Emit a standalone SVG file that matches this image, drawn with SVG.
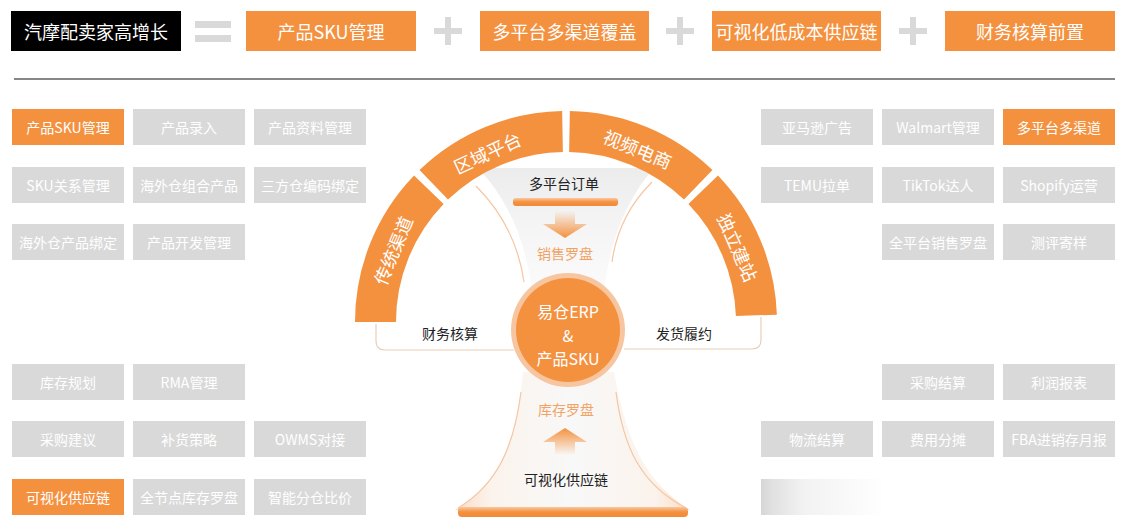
<svg xmlns="http://www.w3.org/2000/svg" width="1123" height="525" viewBox="0 0 1123 525">
<defs>
<style>
text{font-family:"Noto Sans CJK SC","Noto Sans",sans-serif;text-anchor:middle;dominant-baseline:central}
.g{fill:#d9d9d9}
.o{fill:#f4913f}
.bt{fill:#fff;font-size:14px}
.tt{fill:#fff;font-size:18px}
.ht{fill:#fff;font-size:16px}
.sign{fill:#d9d9d9}
.seg{fill:none;stroke:#f4913f;stroke-width:41}
.st{fill:#fff;font-size:18px}
.dk{fill:#222;font-size:14px}
.lo{fill:#f2a264;font-size:14px}
.br{fill:none;stroke:#ebcdb6;stroke-width:1.2}
.edge{fill:none;stroke:#f5c6a2;stroke-width:1.2}
</style>
<linearGradient id="funTop" x1="0" y1="0" x2="0" y2="1">
<stop offset="0" stop-color="#ececec"/>
<stop offset="0.5" stop-color="#f5f5f5"/>
<stop offset="1" stop-color="#fbfbfb"/>
</linearGradient>
<linearGradient id="bell" x1="0" y1="0" x2="1" y2="0">
<stop offset="0" stop-color="#fbdcc4"/>
<stop offset="0.15" stop-color="#fbf3ec"/>
<stop offset="0.5" stop-color="#f8f8f8"/>
<stop offset="0.85" stop-color="#fbf3ec"/>
<stop offset="1" stop-color="#fbdcc4"/>
</linearGradient>
<linearGradient id="bar" x1="0" y1="0" x2="0" y2="1">
<stop offset="0" stop-color="#f9c7a0"/>
<stop offset="0.5" stop-color="#f4913f"/>
<stop offset="1" stop-color="#f28a36"/>
</linearGradient>
<linearGradient id="arrDown" x1="0" y1="0" x2="0" y2="1">
<stop offset="0" stop-color="#f4913f" stop-opacity="0"/>
<stop offset="1" stop-color="#f4913f"/>
</linearGradient>
<linearGradient id="arrUp" x1="0" y1="0" x2="0" y2="1">
<stop offset="0" stop-color="#f4913f"/>
<stop offset="1" stop-color="#f4913f" stop-opacity="0"/>
</linearGradient>
<linearGradient id="fade" x1="0" y1="0" x2="1" y2="0">
<stop offset="0" stop-color="#d6d6d6"/>
<stop offset="0.03" stop-color="#e0e0e0"/>
<stop offset="0.12" stop-color="#f2f2f2"/>
<stop offset="0.35" stop-color="#ffffff"/>
</linearGradient>
</defs>
<rect width="1123" height="525" fill="#fff"/>

<!-- top formula row -->
<g id="title">
<rect x="11" y="11" width="170" height="40" fill="#000"/>
<text class="tt" x="96" y="31">汽摩配卖家高增长</text>
</g>
<g id="equals">
<rect class="sign" x="195" y="21" width="36" height="7"/>
<rect class="sign" x="195" y="35" width="36" height="7"/>
</g>
<g id="top-sku">
<rect class="o" x="246" y="11" width="170" height="40"/>
<text class="tt" x="331" y="31">产品SKU管理</text>
</g>
<g id="plus1"><rect class="sign" x="434" y="28" width="28" height="6"/><rect class="sign" x="445" y="17" width="6" height="28"/></g>
<g id="top-channel">
<rect class="o" x="480" y="11" width="169" height="40"/>
<text class="tt" x="564.5" y="31">多平台多渠道覆盖</text>
</g>
<g id="plus2"><rect class="sign" x="666" y="28" width="28" height="6"/><rect class="sign" x="677" y="17" width="6" height="28"/></g>
<g id="top-supply">
<rect class="o" x="712" y="11" width="169" height="40"/>
<text class="tt" x="796.5" y="31">可视化低成本供应链</text>
</g>
<g id="plus3"><rect class="sign" x="899" y="28" width="28" height="6"/><rect class="sign" x="910" y="17" width="6" height="28"/></g>
<g id="top-finance">
<rect class="o" x="945" y="11" width="170" height="40"/>
<text class="tt" x="1030" y="31">财务核算前置</text>
</g>
<line x1="14" y1="79" x2="1115" y2="79" stroke="#111" stroke-width="1.2"/>

<!-- left top grid -->
<g id="l-sku"><rect class="o" x="12" y="109" width="112" height="36"/><text class="bt" x="68" y="127">产品SKU管理</text></g>
<g id="l-entry"><rect class="g" x="133" y="109" width="112" height="36"/><text class="bt" x="189" y="127">产品录入</text></g>
<g id="l-info"><rect class="g" x="254" y="109" width="112" height="36"/><text class="bt" x="310" y="127">产品资料管理</text></g>
<g id="l-skurel"><rect class="g" x="12" y="167" width="112" height="36"/><text class="bt" x="68" y="185">SKU关系管理</text></g>
<g id="l-combo"><rect class="g" x="133" y="167" width="112" height="36"/><text class="bt" x="189" y="185">海外仓组合产品</text></g>
<g id="l-3pl"><rect class="g" x="254" y="167" width="112" height="36"/><text class="bt" x="310" y="185">三方仓编码绑定</text></g>
<g id="l-bind"><rect class="g" x="12" y="224" width="112" height="36"/><text class="bt" x="68" y="242">海外仓产品绑定</text></g>
<g id="l-dev"><rect class="g" x="133" y="224" width="112" height="36"/><text class="bt" x="189" y="242">产品开发管理</text></g>

<!-- left bottom grid -->
<g id="l-plan"><rect class="g" x="12" y="364" width="112" height="36"/><text class="bt" x="68" y="382">库存规划</text></g>
<g id="l-rma"><rect class="g" x="133" y="364" width="112" height="36"/><text class="bt" x="189" y="382">RMA管理</text></g>
<g id="l-purch"><rect class="g" x="12" y="421" width="112" height="36"/><text class="bt" x="68" y="439">采购建议</text></g>
<g id="l-replen"><rect class="g" x="133" y="421" width="112" height="36"/><text class="bt" x="189" y="439">补货策略</text></g>
<g id="l-owms"><rect class="g" x="254" y="421" width="112" height="36"/><text class="bt" x="310" y="439">OWMS对接</text></g>
<g id="l-vis"><rect class="o" x="12" y="479" width="112" height="36"/><text class="bt" x="68" y="497">可视化供应链</text></g>
<g id="l-node"><rect class="g" x="133" y="479" width="112" height="36"/><text class="bt" x="189" y="497">全节点库存罗盘</text></g>
<g id="l-split"><rect class="g" x="254" y="479" width="112" height="36"/><text class="bt" x="310" y="497">智能分仓比价</text></g>

<!-- right top grid -->
<g id="r-amz"><rect class="g" x="761" y="109" width="112" height="36"/><text class="bt" x="817" y="127">亚马逊广告</text></g>
<g id="r-wal"><rect class="g" x="882" y="109" width="112" height="36"/><text class="bt" x="938" y="127">Walmart管理</text></g>
<g id="r-multi"><rect class="o" x="1003" y="109" width="112" height="36"/><text class="bt" x="1059" y="127">多平台多渠道</text></g>
<g id="r-temu"><rect class="g" x="761" y="167" width="112" height="36"/><text class="bt" x="817" y="185">TEMU拉单</text></g>
<g id="r-tiktok"><rect class="g" x="882" y="167" width="112" height="36"/><text class="bt" x="938" y="185">TikTok达人</text></g>
<g id="r-shopify"><rect class="g" x="1003" y="167" width="112" height="36"/><text class="bt" x="1059" y="185">Shopify运营</text></g>
<g id="r-compass"><rect class="g" x="882" y="224" width="112" height="36"/><text class="bt" x="938" y="242">全平台销售罗盘</text></g>
<g id="r-review"><rect class="g" x="1003" y="224" width="112" height="36"/><text class="bt" x="1059" y="242">测评寄样</text></g>

<!-- right bottom grid -->
<g id="r-psettle"><rect class="g" x="882" y="364" width="112" height="36"/><text class="bt" x="938" y="382">采购结算</text></g>
<g id="r-profit"><rect class="g" x="1003" y="364" width="112" height="36"/><text class="bt" x="1059" y="382">利润报表</text></g>
<g id="r-logi"><rect class="g" x="761" y="421" width="112" height="36"/><text class="bt" x="817" y="439">物流结算</text></g>
<g id="r-cost"><rect class="g" x="882" y="421" width="112" height="36"/><text class="bt" x="938" y="439">费用分摊</text></g>
<g id="r-fba"><rect class="g" x="1003" y="421" width="112" height="36"/><text class="bt" x="1059" y="439">FBA进销存月报</text></g>
<g id="r-fade"><rect x="761" y="479" width="354" height="36" fill="url(#fade)"/></g>

<!-- center: funnels -->
<g id="upper-funnel">
<path d="M478,168 L654,168 C626,200 610,240 604,292 L532,292 C526,240 508,200 478,168 Z" fill="url(#funTop)"/>
<path class="edge" d="M476,186 C500,210 518,240 524,282"/>
<path class="edge" d="M652,182 C628,206 616,232 612,262"/>
<text class="dk" x="564" y="183">多平台订单</text>
<rect x="513" y="198" width="105" height="8" rx="3" fill="url(#bar)"/>
<polygon points="555,211 575,211 575,224 587,224 565,238 543,224 555,224" fill="url(#arrDown)"/>
<text class="lo" x="565" y="253">销售罗盘</text>
</g>
<g id="lower-funnel">
<path d="M523,372 C517,440 500,482 455,510 L690,510 C645,482 626,440 614,372 Z" fill="url(#bell)"/>
<path class="edge" d="M521,392 C514,446 498,484 458,508"/>
<path class="edge" d="M616,392 C623,446 640,484 686,508"/>
<text class="lo" x="566" y="409">库存罗盘</text>
<polygon points="565,428 587,442 575,442 575,455 555,455 555,442 543,442" fill="url(#arrUp)"/>
<text class="dk" x="566" y="479">可视化供应链</text>
<rect x="458" y="507" width="230" height="10" rx="4" fill="url(#bar)"/>
</g>

<!-- arc segments -->
<g id="seg-traditional">
<path class="seg" d="M375.5,322 A190.5,190.5 0 0 1 428.84,189.79"/>
<text class="st" transform="translate(392.3,250.1) rotate(-67.5)">传统渠道</text>
</g>
<g id="seg-regional">
<path class="seg" d="M433.78,184.86 A190.5,190.5 0 0 1 562.51,131.53"/>
<text class="st" transform="translate(487,152) rotate(-25)">区域平台</text>
</g>
<g id="seg-video">
<path class="seg" d="M569.49,131.53 A190.5,190.5 0 0 1 698.22,184.86"/>
<text class="st" transform="translate(637.9,148.3) rotate(22.5)">视频电商</text>
</g>
<g id="seg-independent">
<path class="seg" d="M703.16,189.79 A190.5,190.5 0 0 1 756.38,315.35"/>
<text class="st" transform="translate(738.4,247) rotate(66.5)">独立建站</text>
</g>

<!-- connectors -->
<g id="connectors">
<path class="br" d="M376,324 L376,341 Q376,350 385,350 L514,350"/>
<path class="br" d="M624,349 L752,349 Q761,349 761,340 L761,317"/>
</g>
<g id="label-finance"><text class="dk" x="450" y="333">财务核算</text></g>
<g id="label-fulfil"><text class="dk" x="684" y="333">发货履约</text></g>

<!-- center hub -->
<g id="hub">
<circle cx="568" cy="330" r="57" fill="#f7c6a1"/>
<circle cx="568" cy="330" r="52" fill="#f4913f"/>
<text class="ht" x="568" y="311">易仓ERP</text>
<text class="ht" x="568" y="334.5">&amp;</text>
<text class="ht" x="568" y="358">产品SKU</text>
</g>
</svg>
